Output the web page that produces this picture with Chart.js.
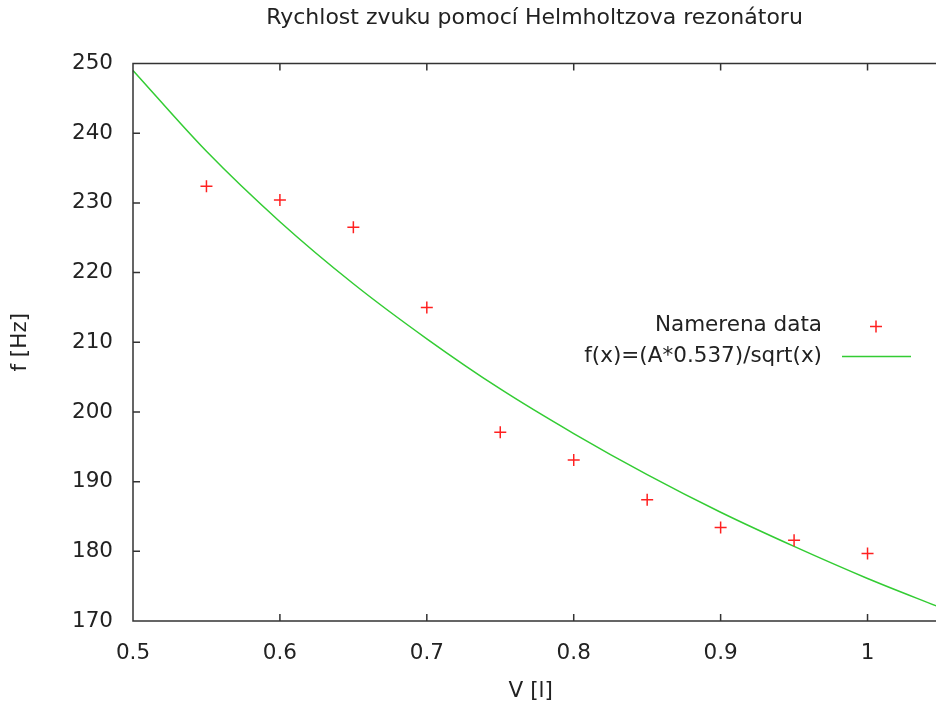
<!DOCTYPE html>
<html>
<head>
<meta charset="utf-8">
<script src="https://cdn.jsdelivr.net/npm/chart.js@4.4.1/dist/chart.umd.min.js"></script>
<style>
  html, body { margin: 0; padding: 0; background: #fff; }
  #wrap { width: 936px; height: 708px; }
</style>
</head>
<body>
<div id="wrap"><canvas id="helmChart"></canvas></div>
<script>
// namerene body
const objemy = [0.55, 0.6, 0.65, 0.7, 0.75, 0.8, 0.85, 0.9, 0.95, 1.0];
const frekvence = [232.4, 230.4, 226.5, 215.0, 197.1, 193.1, 187.4, 183.4, 181.6, 179.7];

// fit krivka
const fitX = [0.5, 0.55, 0.6, 0.65, 0.7, 0.75, 0.8, 0.85, 0.9, 0.95, 1.0, 1.05];
const fitY = [249.0, 237.4, 227.3, 218.4, 210.5, 203.3, 196.9, 191.0, 185.6, 180.7, 176.1, 171.9];

const xTicks = [0.5, 0.6, 0.7, 0.8, 0.9, 1.0];
const yTicks = [170, 180, 190, 200, 210, 220, 230, 240, 250];

const nadpis = 'Rychlost zvuku pomocí Helmholtzova rezonátoru';

const FONT = '"DejaVu Sans", sans-serif';
const FS = 21.5;
const TXT = '#222';

// ramecek, vnitrni znacky, nadpis a legenda (gnuplot styl)
const gnuplotFrame = {
    id: 'gnuplotFrame',
    afterDatasetsDraw(chart) {
        const ctx = chart.ctx;
        const a = chart.chartArea;
        const xs = chart.scales.x, ys = chart.scales.y;
        ctx.save();
        ctx.strokeStyle = '#333';
        ctx.lineWidth = 1.5;
        ctx.beginPath();
        ctx.moveTo(chart.width + 5, a.top);
        ctx.lineTo(a.left, a.top);
        ctx.lineTo(a.left, a.bottom);
        ctx.lineTo(chart.width + 5, a.bottom);
        const tl = 7;
        xTicks.forEach(v => {
            const px = xs.getPixelForValue(v);
            ctx.moveTo(px, a.bottom); ctx.lineTo(px, a.bottom - tl);
            ctx.moveTo(px, a.top); ctx.lineTo(px, a.top + tl);
        });
        yTicks.forEach(v => {
            const py = ys.getPixelForValue(v);
            ctx.moveTo(a.left, py); ctx.lineTo(a.left + tl, py);
        });
        ctx.stroke();

        ctx.fillStyle = TXT;
        ctx.textBaseline = 'middle';

        // nadpis nad grafem
        ctx.font = '22px ' + FONT;
        ctx.textAlign = 'center';
        ctx.fillText(nadpis, (a.left + chart.width) / 2, a.top - 45);

        // legenda
        ctx.font = FS + 'px ' + FONT;
        ctx.textAlign = 'right';
        const lx = a.left + 689, ly = a.top + 262;
        ctx.fillText(chart.data.datasets[0].label, lx, ly);
        ctx.fillText(chart.data.datasets[1].label, lx, ly + 31);

        ctx.strokeStyle = '#ff2020';
        ctx.beginPath();
        ctx.moveTo(lx + 48, ly + 1); ctx.lineTo(lx + 60, ly + 1);
        ctx.moveTo(lx + 54, ly - 5); ctx.lineTo(lx + 54, ly + 7);
        ctx.stroke();

        ctx.strokeStyle = '#33cc33';
        ctx.beginPath();
        ctx.moveTo(lx + 20, ly + 31); ctx.lineTo(lx + 89, ly + 31);
        ctx.stroke();
        ctx.restore();
    }
};

const ctx = document.getElementById('helmChart').getContext('2d');
new Chart(ctx, {
    type: 'scatter',
    data: {
        datasets: [{
            label: 'Namerena data',
            data: objemy.map((x, i) => ({ x: x, y: frekvence[i] })),
            pointStyle: 'cross',
            pointRadius: 6,
            borderColor: '#ff2020',
            borderWidth: 1.5,
            order: 1
        }, {
            label: 'f(x)=(A*0.537)/sqrt(x)',
            type: 'line',
            data: fitX.map((x, i) => ({ x: x, y: fitY[i] })),
            borderColor: '#33cc33',
            borderWidth: 1.5,
            pointRadius: 0,
            cubicInterpolationMode: 'monotone',
            fill: false,
            clip: false,
            order: 2
        }]
    },
    options: {
        responsive: true,
        maintainAspectRatio: false,
        animation: false,
        layout: { padding: { top: 63.5, right: 0, left: 0, bottom: 0 } },
        plugins: {
            legend: { display: false },
            tooltip: { enabled: false },
            title: { display: false }
        },
        scales: {
            x: {
                type: 'linear',
                min: 0.5,
                max: 1.0415,
                afterBuildTicks: s => { s.ticks = xTicks.map(v => ({ value: v })); },
                afterFit: s => { s.height = 87; },
                grid: { display: false, drawTicks: false },
                border: { display: false },
                ticks: {
                    color: TXT,
                    padding: 20,
                    maxRotation: 0,
                    font: { family: FONT, size: FS },
                    callback: v => String(Math.round(v * 10) / 10)
                },
                title: {
                    display: true,
                    text: 'V [l]',
                    color: TXT,
                    font: { family: FONT, size: FS },
                    padding: { top: 0, bottom: 4 }
                }
            },
            y: {
                type: 'linear',
                min: 170,
                max: 250,
                afterBuildTicks: s => { s.ticks = yTicks.map(v => ({ value: v })); },
                afterFit: s => { s.width = 133; },
                grid: { display: false, drawTicks: false },
                border: { display: false },
                ticks: {
                    color: TXT,
                    padding: 20,
                    font: { family: FONT, size: FS }
                },
                title: {
                    display: true,
                    text: 'f [Hz]',
                    color: TXT,
                    font: { family: FONT, size: FS },
                    padding: { top: 8, bottom: 0 }
                }
            }
        }
    },
    plugins: [gnuplotFrame]
});
</script>
</body>
</html>
